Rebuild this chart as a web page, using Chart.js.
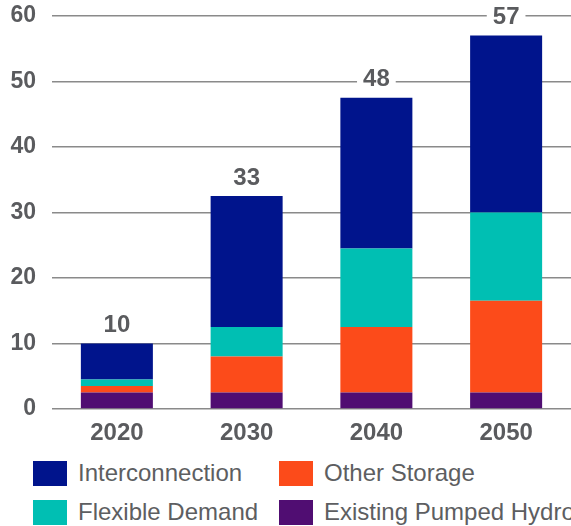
<!DOCTYPE html>
<html>
<head>
<meta charset="utf-8">
<script src="https://cdn.jsdelivr.net/npm/chart.js@4"></script>
<style>
  html, body { margin: 0; padding: 0; background: #fff; overflow: hidden; }
  #wrap { position: relative; width: 571px; height: 526px; overflow: hidden; }
  #chartBox { position: absolute; left: 0; top: -14px; width: 571px; height: 464px; }
  .legend-item { position: absolute; display: flex; align-items: center; white-space: nowrap;
    font-family: "Liberation Sans", Arial, sans-serif; font-size: 24px; color: #5d5e61; }
  .legend-item span.box { display: inline-block; width: 34px; height: 25px; margin-right: 11px; }
</style>
</head>
<body>
<div id="wrap">
  <div id="chartBox"><canvas id="barChart"></canvas></div>
  <div id="legend"></div>
</div>
<script>
const categories = ['2020', '2030', '2040', '2050'];
const pumpedHydro = [2.5, 2.5, 2.5, 2.5];
const otherStorage = [1, 5.5, 10, 14];
const flexibleDemand = [1, 4.5, 12, 13.5];
const interconnection = [5.5, 20, 23, 27];
const yTicks = [0, 10, 20, 30, 40, 50, 60];

const textGrey = '#5a5b5e';
const font = '"Liberation Sans", Arial, sans-serif';

// stack order bottom -> top
const datasets = [
    { label: 'Existing Pumped Hydro', data: pumpedHydro, backgroundColor: '#500d72' },
    { label: 'Other Storage', data: otherStorage, backgroundColor: '#fc4b1a' },
    { label: 'Flexible Demand', data: flexibleDemand, backgroundColor: '#00bfb3' },
    { label: 'Interconnection', data: interconnection, backgroundColor: '#00148c' }
];

// totals above each bar, on a white patch over the grid
const totalLabels = {
    id: 'totalLabels',
    afterDatasetsDraw(chart) {
        const ctx = chart.ctx;
        const topMeta = chart.getDatasetMeta(datasets.length - 1);
        ctx.save();
        ctx.font = 'bold 24px ' + font;
        ctx.textAlign = 'center';
        ctx.textBaseline = 'middle';
        categories.forEach(function (c, i) {
            let total = 0;
            datasets.forEach(function (d) { total += d.data[i]; });
            const bar = topMeta.data[i];
            const txt = String(Math.round(total));
            const y = bar.y - 19;
            const w = ctx.measureText(txt).width + 12;
            ctx.fillStyle = '#fff';
            ctx.fillRect(bar.x - w / 2, y - 12, w, 24);
            ctx.fillStyle = textGrey;
            ctx.fillText(txt, bar.x, y + 1);
        });
        ctx.restore();
    }
};

new Chart(document.getElementById('barChart').getContext('2d'), {
    type: 'bar',
    data: {
        labels: categories,
        datasets: datasets.map(function (d) {
            return Object.assign({ borderWidth: 0, categoryPercentage: 1, barPercentage: 0.555 }, d);
        })
    },
    options: {
        responsive: true,
        maintainAspectRatio: false,
        animation: false,
        layout: { padding: 0 },
        plugins: { legend: { display: false }, tooltip: { enabled: false } },
        scales: {
            x: {
                stacked: true,
                grid: { display: false, drawTicks: false },
                border: { display: false },
                ticks: { color: textGrey, font: { family: font, size: 24, weight: 'bold' }, padding: 10 },
                afterFit(scale) { scale.height = 41; }
            },
            y: {
                stacked: true,
                min: 0,
                max: 60,
                afterBuildTicks(scale) { scale.ticks = yTicks.map(function (v) { return { value: v }; }); },
                grid: { color: '#8a8a8a', lineWidth: 1.5, drawTicks: false },
                border: { display: false },
                ticks: { color: textGrey, font: { family: font, size: 23, weight: 'bold' }, padding: 16 },
                afterFit(scale) { scale.width = 52; }
            }
        }
    },
    plugins: [totalLabels]
});

// legend, two fixed columns like the original
const legendOrder = [
    { label: 'Interconnection', left: 33, top: 459 },
    { label: 'Other Storage', left: 279, top: 459 },
    { label: 'Flexible Demand', left: 33, top: 498 },
    { label: 'Existing Pumped Hydro', left: 279, top: 498 }
];
const legendEl = document.getElementById('legend');
legendOrder.forEach(function (item) {
    const ds = datasets.find(function (d) { return d.label === item.label; });
    const div = document.createElement('div');
    div.className = 'legend-item';
    div.style.left = item.left + 'px';
    div.style.top = item.top + 'px';
    div.innerHTML = '<span class="box" style="background:' + ds.backgroundColor + '"></span>' + item.label;
    legendEl.appendChild(div);
});
</script>
</body>
</html>
